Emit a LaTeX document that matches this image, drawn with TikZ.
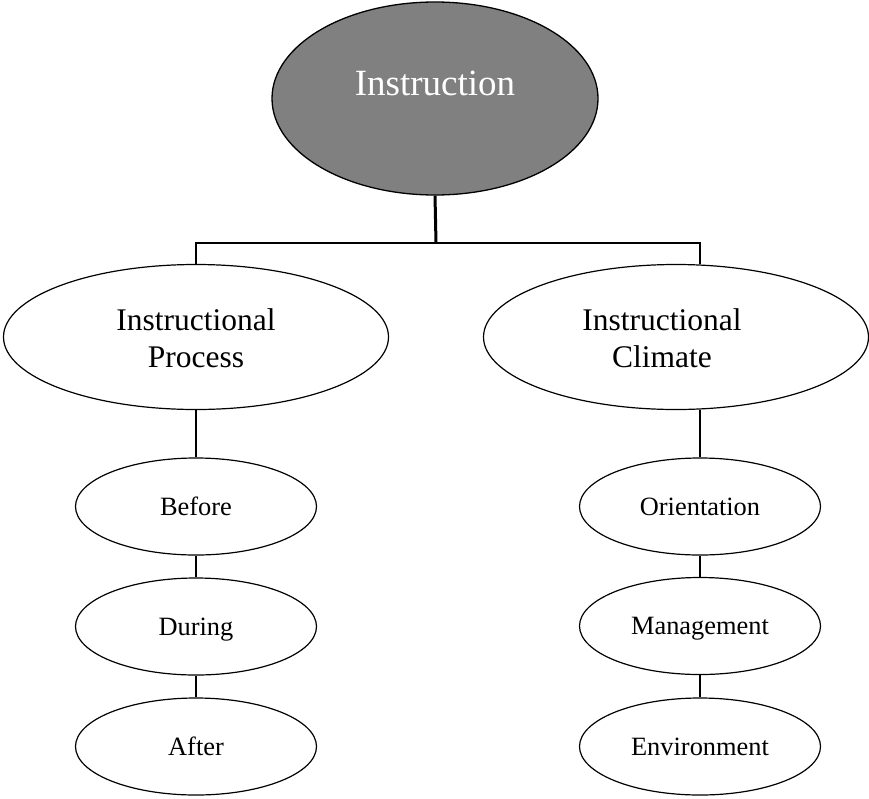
\documentclass[tikz,border=0pt]{standalone}
\usepackage{fontspec}
\setmainfont{Liberation Serif}
\usetikzlibrary{shapes.geometric}
\definecolor{topgray}{HTML}{808080}
\begin{document}
\begin{tikzpicture}[x=1pt,y=-1pt,
  topbox/.style={ellipse,draw=black,line width=1.3pt,fill=topgray,inner sep=0pt,minimum width=326pt,minimum height=193pt},
  midbox/.style={ellipse,draw=black,line width=1.2pt,inner sep=0pt,minimum width=385pt,minimum height=145pt},
  midtext/.style={inner sep=0pt,align=center,font=\fontsize{31.5}{37}\selectfont},
  smallbox/.style={ellipse,draw=black,line width=1.2pt,inner sep=0pt,minimum width=241pt,minimum height=97pt,font=\fontsize{26.4}{30}\selectfont,text height=17.5pt,text depth=0pt},
  link/.style={line width=1.2pt},
  thicklink/.style={line width=3pt}
]
\useasboundingbox (0,0) rectangle (869,798);
\node[topbox] (top) at (435,98.5) {};
\node[anchor=base,text=white,font=\fontsize{37}{42}\selectfont,inner sep=0pt] (toptxt) at (435,95) {Instruction};
\coordinate (bar) at (436,243);
\node[midbox] (pl) at (196,337) {};
\node[midtext] (pltxt) at (196,338) {Instructional\\Process};
\node[midbox] (pr) at (676,337) {};
\node[midtext] (prtxt) at (662,338) {Instructional\\Climate};
\node[smallbox] (b) at (196,506.5) {Before};
\node[smallbox] (d) at (196,626.5) {During};
\node[smallbox] (a) at (196,746.5) {After};
\node[smallbox] (o) at (700,506.5) {Orientation};
\node[smallbox] (m) at (700,626) {Management};
\node[smallbox] (e) at (700,746.5) {Environment};
\draw[thicklink] (top.south) -- (bar);
\draw[link] (pl.north) |- (bar) -| (o.north |- pr.north);
\draw[link] (pl.south) -- (b.north);
\draw[link] (b.south) -- (d.north);
\draw[link] (d.south) -- (a.north);
\draw[link] (o.north |- pr.south) -- (o.north);
\draw[link] (o.south) -- (m.north);
\draw[link] (m.south) -- (e.north);
\end{tikzpicture}
\end{document}
